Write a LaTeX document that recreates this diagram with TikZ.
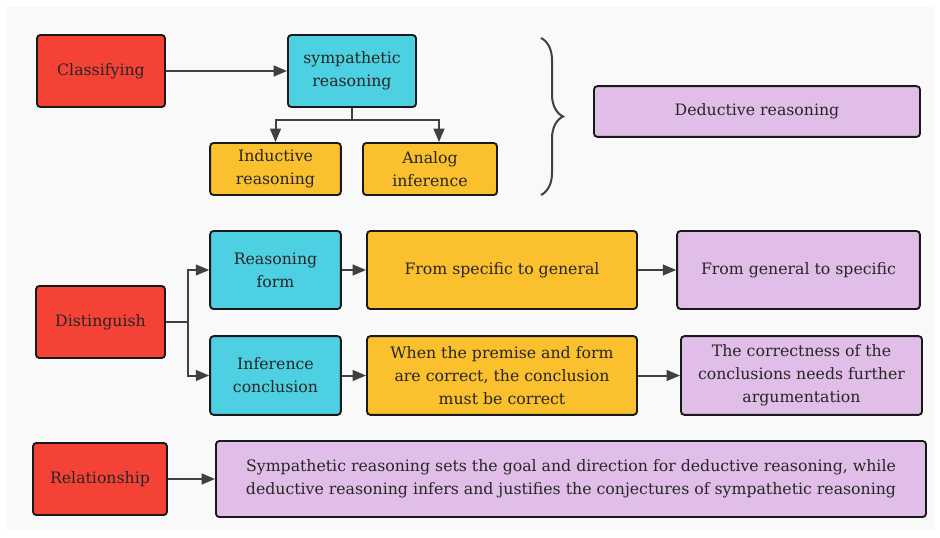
\documentclass[tikz,border=0pt]{standalone}
\usepackage{fontspec}
\setmainfont{DejaVu Serif}
\usetikzlibrary{arrows.meta,decorations.pathreplacing}
\definecolor{panel}{HTML}{F9F9F9}
\definecolor{redbox}{HTML}{F44336}
\definecolor{cyanbox}{HTML}{4DD0E1}
\definecolor{amberbox}{HTML}{FBC02D}
\definecolor{lilacbox}{HTML}{E1BEE7}
\definecolor{linkgray}{HTML}{404040}

\begin{document}
\begin{tikzpicture}[x=0.75pt,y=-0.75pt]
    \tikzset{block/.style={draw=black!90, line width=1.4pt, rounded corners=2.5pt, align=center, inner sep=2pt, text=black!85, font=\fontsize{11.8}{17.25}\selectfont}}
    \tikzset{link/.style={draw=linkgray, line width=1.5pt, -{Triangle[length=10pt,width=8pt]}}}
    \useasboundingbox (0,0) rectangle (940,537);
    \fill[panel] (6,7) rectangle (934,530);
    % classifying
    \node[block, fill=redbox, minimum width=96pt, minimum height=54pt] (class) at (101,71) {Classifying};
    \node[block, fill=cyanbox, minimum width=96pt, minimum height=54pt] (symp) at (352,71) {sympathetic\\ reasoning};
    \node[block, fill=amberbox, minimum width=98pt, minimum height=39pt] (induct) at (275.5,169) {Inductive\\ reasoning};
    \node[block, fill=amberbox, minimum width=100.5pt, minimum height=39pt] (analog) at (430,169) {Analog\\ inference};
    \node[block, fill=lilacbox, minimum width=244.5pt, minimum height=38pt] (deduct) at (757,111.5) {Deductive reasoning};
    \draw[link] (class) -- (symp);
    \draw[link] (symp.south) -- ++(0,12) -| (induct.north);
    \draw[link] (symp.south) -- ++(0,12) -| ([xshift=6.75pt]analog.north);
    \draw[linkgray, line width=1.5pt, decorate, decoration={brace, amplitude=16.5pt}] (541,38) -- (541,195);
    % distinguish
    \node[block, fill=redbox, minimum width=96.75pt, minimum height=54pt] (disting) at (100.5,322) {Distinguish};
    \node[block, fill=cyanbox, minimum width=98pt, minimum height=58.5pt] (rform) at (275.5,270) {Reasoning\\ form};
    \node[block, fill=cyanbox, minimum width=98pt, minimum height=59pt] (iconcl) at (275.5,375.5) {Inference\\ conclusion};
    \node[block, fill=amberbox, minimum width=202.5pt, minimum height=58.5pt] (spec) at (502,270) {From specific to general};
    \node[block, fill=lilacbox, minimum width=182pt, minimum height=58.5pt] (gen) at (798.5,270) {From general to specific};
    \node[block, fill=amberbox, minimum width=202.5pt, minimum height=59pt] (premise) at (502,375.5) {When the premise and form\\ are correct, the conclusion\\ must be correct};
    \node[block, fill=lilacbox, minimum width=180.75pt, minimum height=59pt] (correct) at (801.5,375.5) {The correctness of the\\ conclusions needs further\\ argumentation};
    \draw[linkgray, line width=1.5pt] (disting.east) -- ++(22,0) coordinate (split);
    \draw[link] (split) |- (rform.west);
    \draw[link] (split) |- (iconcl.west);
    \draw[link] (rform) -- (spec);
    \draw[link] (spec) -- (gen);
    \draw[link] (iconcl) -- (premise);
    \draw[link] (premise) -- (correct);
    % relationship
    \node[block, fill=redbox, minimum width=100.5pt, minimum height=54pt] (relat) at (100,479) {Relationship};
    \node[block, fill=lilacbox, minimum width=532.5pt, minimum height=57pt] (goal) at (571,479) {Sympathetic reasoning sets the goal and direction for deductive reasoning, while\\ deductive reasoning infers and justifies the conjectures of sympathetic reasoning};
    \draw[link] (relat) -- (goal);
\end{tikzpicture}
\end{document}
